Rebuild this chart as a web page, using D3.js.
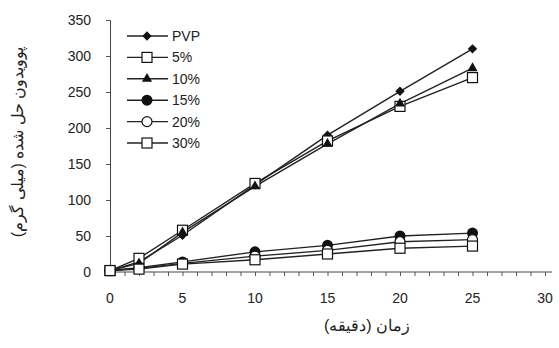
<!DOCTYPE html>
<html lang="fa">
<head>
<meta charset="UTF-8">
<title>Povidone release</title>
<script src="https://d3js.org/d3.v7.min.js"></script>
<style>
  body { margin: 0; background: #fff; }
  svg { display: block; }
  text { font-family: "Liberation Sans", Arial, sans-serif; fill: #222; }
</style>
</head>
<body>
<svg width="559" height="348"></svg>
<script>
// time (min)
var times = [0, 2, 5, 10, 15, 20, 25];
var seriesNames = ["PVP", "5%", "10%", "15%", "20%", "30%"];
var pvp  = [2, 14, 51, 121, 190, 251, 310];
var p5   = [2, 19, 58, 123, 182, 230, 270];
var p10  = [2, 12, 55, 119, 178, 234, 283];
var p15  = [2, 6, 14, 28, 37, 50, 54];
var p20  = [2, 5, 12, 22, 30, 42, 45];
var p30  = [2, 4, 11, 17, 25, 33, 36];
var xTicks = [0, 5, 10, 15, 20, 25, 30];
var yTicks = [0, 50, 100, 150, 200, 250, 300, 350];
var markers = ["diamond", "squareOpen", "triangle", "circle", "circleOpen", "squareOpen"];

var all = [pvp, p5, p10, p15, p20, p30];

var svg = d3.select("svg");
var x = d3.scaleLinear().domain([0, 30]).range([110, 545]);
var y = d3.scaleLinear().domain([0, 350]).range([272, 20]);

// axes
var xAxis = d3.axisBottom(x).tickValues(d3.range(0, 31, 1)).tickSize(4).tickFormat("");
svg.append("g").attr("transform", "translate(0,272)").call(xAxis)
   .call(function(g) { g.select(".domain").attr("d", "M110,0H552").attr("stroke", "#444"); })
   .selectAll("line").attr("stroke", "#555");
svg.selectAll(".xl").data(xTicks).enter().append("text")
   .attr("x", function(d) { return x(d); }).attr("y", 303)
   .attr("text-anchor", "middle").attr("font-size", 14).text(function(d) { return d; });

var yAxis = d3.axisLeft(y).tickValues(yTicks).tickSize(4).tickFormat("");
svg.append("g").attr("transform", "translate(110,0)").call(yAxis)
   .call(function(g) { g.select(".domain").attr("stroke", "#444"); })
   .selectAll("line").attr("stroke", "#555");
svg.selectAll(".yl").data(yTicks).enter().append("text")
   .attr("x", 91).attr("y", function(d) { return y(d) + 5; })
   .attr("text-anchor", "end").attr("font-size", 14).text(function(d) { return d; });

// axis titles
svg.append("text").attr("x", 367).attr("y", 331).attr("text-anchor", "middle")
   .attr("font-size", 16).attr("font-family", "DejaVu Sans").text("زمان (دقیقه)");
svg.append("text").attr("transform", "translate(23,142) rotate(-90)").attr("text-anchor", "middle")
   .attr("font-size", 16).attr("font-family", "DejaVu Sans").text("پوویدون حل شده (میلی گرم)");

function drawMarker(g, type, cx, cy) {
  if (type == "diamond") {
    g.append("rect").attr("x", -3.3).attr("y", -3.3).attr("width", 6.6).attr("height", 6.6)
     .attr("transform", "translate(" + cx + "," + cy + ") rotate(45)").attr("fill", "#111");
  } else if (type == "squareOpen") {
    g.append("rect").attr("x", cx - 5).attr("y", cy - 5).attr("width", 10).attr("height", 10)
     .attr("fill", "#fff").attr("stroke", "#111").attr("stroke-width", 1.2);
  } else if (type == "triangle") {
    g.append("path").attr("d", d3.symbol(d3.symbolTriangle, 45)()).attr("transform", "translate(" + cx + "," + cy + ")").attr("fill", "#111");
  } else if (type == "circle") {
    g.append("circle").attr("cx", cx).attr("cy", cy).attr("r", 5.5).attr("fill", "#111");
  } else {
    g.append("circle").attr("cx", cx).attr("cy", cy).attr("r", 5).attr("fill", "#fff").attr("stroke", "#111").attr("stroke-width", 1.2);
  }
}

var line = d3.line().x(function(d, i) { return x(times[i]); }).y(function(d) { return y(d); });

all.forEach(function(vals, s) {
  svg.append("path").datum(vals).attr("d", line).attr("fill", "none")
     .attr("stroke", "#222").attr("stroke-width", 1.4);
});
all.forEach(function(vals, s) {
  var g = svg.append("g");
  vals.forEach(function(v, i) { drawMarker(g, markers[s], x(times[i]), y(v)); });
});

// legend
var leg = svg.append("g");
seriesNames.forEach(function(name, i) {
  var ly = 36 + i * 21.4;
  leg.append("line").attr("x1", 127).attr("x2", 168).attr("y1", ly).attr("y2", ly)
     .attr("stroke", "#222").attr("stroke-width", 1.4);
  drawMarker(leg, markers[i], 147, ly);
  leg.append("text").attr("x", 172).attr("y", ly + 5).attr("font-size", 14).text(name);
});
</script>
</body>
</html>
